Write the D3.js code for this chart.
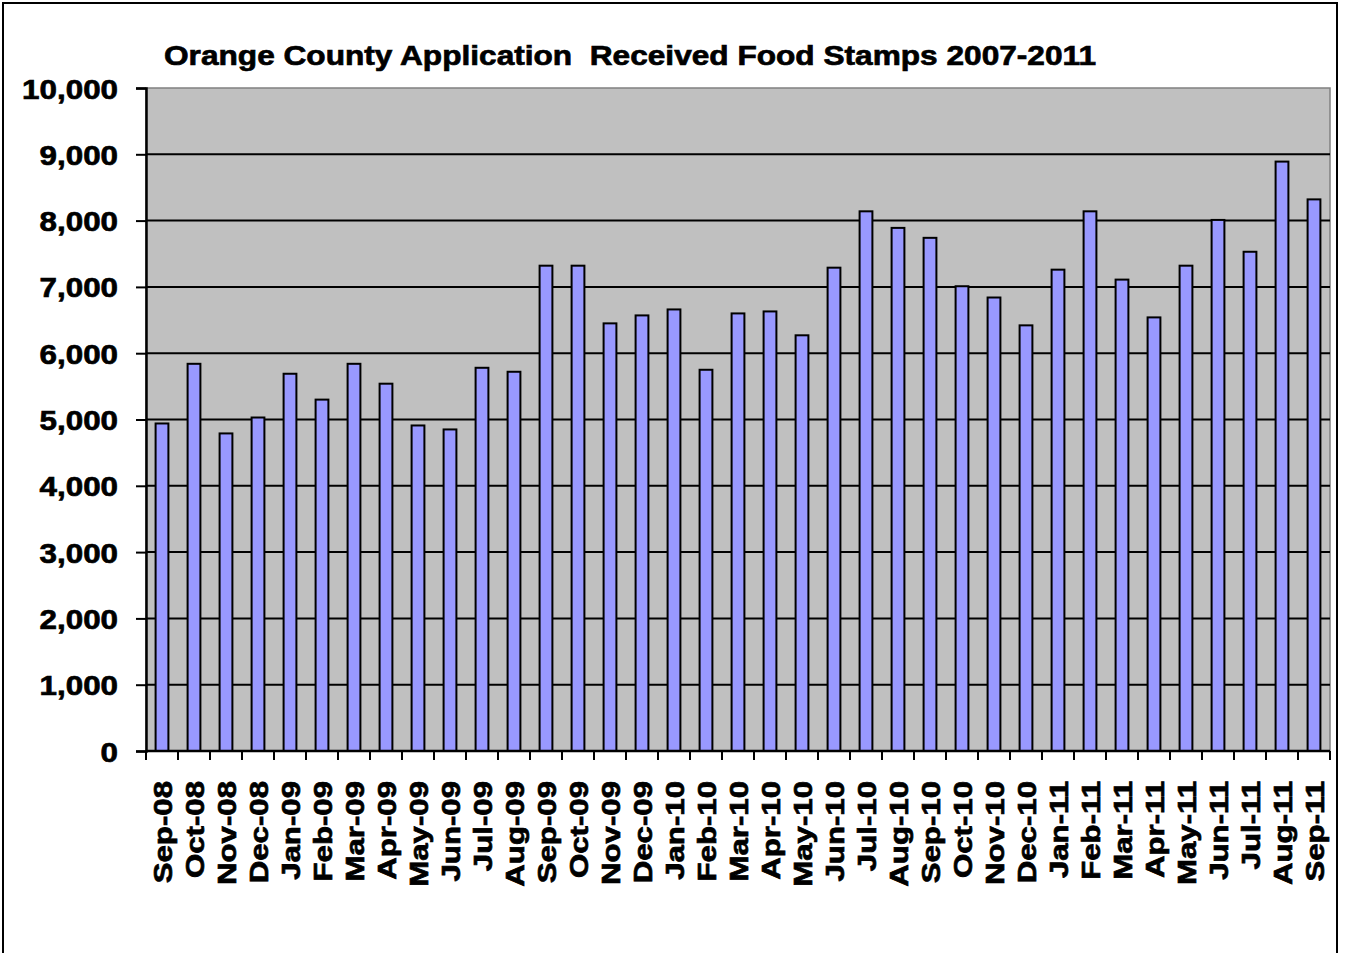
<!DOCTYPE html>
<html>
<head>
<meta charset="utf-8">
<script src="https://cdn.jsdelivr.net/npm/d3@7"></script>
<style>
  body { margin: 0; background: #fff; }
  text { font-family: "Liberation Sans", Arial, sans-serif; font-weight: bold; fill: #000;
         stroke: #000; stroke-width: 0.7px; }
</style>
</head>
<body>
<div id="chart-area"></div>
<script>
// data
var months = ["Sep-08", "Oct-08", "Nov-08", "Dec-08", "Jan-09", "Feb-09", "Mar-09", "Apr-09",
  "May-09", "Jun-09", "Jul-09", "Aug-09", "Sep-09", "Oct-09", "Nov-09", "Dec-09", "Jan-10",
  "Feb-10", "Mar-10", "Apr-10", "May-10", "Jun-10", "Jul-10", "Aug-10", "Sep-10", "Oct-10",
  "Nov-10", "Dec-10", "Jan-11", "Feb-11", "Mar-11", "Apr-11", "May-11", "Jun-11", "Jul-11",
  "Aug-11", "Sep-11"];
var applications = [4940, 5840, 4790, 5030, 5690, 5300, 5840, 5540,
  4910, 4850, 5780, 5720, 7320, 7320, 6450, 6570, 6660,
  5750, 6600, 6630, 6270, 7290, 8140, 7890, 7740, 7010,
  6840, 6420, 7260, 8140, 7110, 6540, 7320, 8010, 7530,
  8890, 8320];
var yTicks = [0, 1000, 2000, 3000, 4000, 5000, 6000, 7000, 8000, 9000, 10000];
var title = "Orange County Application  Received Food Stamps 2007-2011";

var margin = { left: 146, right: 15, top: 88, bottom: 202 },
  width = 1345 - margin.left - margin.right,
  height = 953 - margin.top - margin.bottom;

var svg = d3.select("#chart-area")
  .append("svg")
  .attr("width", 1345)
  .attr("height", 953);

// outer frame
svg.append("rect")
  .attr("x", 3).attr("y", 3)
  .attr("width", 1334).attr("height", 960)
  .attr("fill", "#fff")
  .attr("stroke", "#000")
  .attr("stroke-width", 2);

svg.append("text")
  .attr("x", 630)
  .attr("y", 65)
  .attr("text-anchor", "middle")
  .attr("font-size", "28px")
  .attr("transform", "translate(630,0) scale(1.13,1) translate(-630,0)")
  .style("white-space", "pre")
  .text(title);

var g = svg.append("g")
  .attr("transform", "translate(" + margin.left + "," + margin.top + ")");

var x = d3.scaleBand()
  .domain(months)
  .range([0, width])
  .paddingInner(0.6)
  .paddingOuter(0.3);

var y = d3.scaleLinear()
  .domain([0, 10000])
  .range([height, 0]);

// plot area
g.append("rect")
  .attr("width", width)
  .attr("height", height)
  .attr("fill", "#c0c0c0")
  .attr("stroke", "#808080")
  .attr("stroke-width", 1.5);

// gridlines
g.selectAll(".grid")
  .data(yTicks.filter(function(d) { return d > 0 && d < 10000; }))
  .enter().append("line")
  .attr("class", "grid")
  .attr("x1", 0).attr("x2", width)
  .attr("y1", function(d) { return y(d); })
  .attr("y2", function(d) { return y(d); })
  .attr("stroke", "#000")
  .attr("stroke-width", 2);

// bars
g.selectAll(".bar")
  .data(applications)
  .enter().append("rect")
  .attr("class", "bar")
  .attr("x", function(d, i) { return x(months[i]); })
  .attr("y", function(d) { return y(d); })
  .attr("width", x.bandwidth())
  .attr("height", function(d) { return height - y(d); })
  .attr("fill", "#9999ff")
  .attr("stroke", "#000")
  .attr("stroke-width", 2);

// Y-axis
var yAxisCall = d3.axisLeft(y)
  .tickValues(yTicks)
  .tickSize(10)
  .tickPadding(18)
  .tickFormat(d3.format(","));
var yAxis = g.append("g").attr("class", "y axis").call(yAxisCall);
yAxis.select(".domain").attr("stroke", "#000").attr("stroke-width", 2.5);
yAxis.selectAll(".tick line").attr("stroke", "#000").attr("stroke-width", 2);
yAxis.selectAll(".tick text")
  .attr("font-size", "28px")
  .attr("font-family", "Liberation Sans, Arial, sans-serif")
  .attr("font-weight", "bold")
  .attr("dy", "0.36em")
  .attr("x", -28 / 1.12)
  .attr("transform", "scale(1.12,1)");

// X-axis
var xAxis = g.append("g")
  .attr("class", "x axis")
  .attr("transform", "translate(0," + height + ")");
xAxis.append("line")
  .attr("x1", 0).attr("x2", width)
  .attr("stroke", "#000").attr("stroke-width", 2.5);
xAxis.selectAll(".xtick")
  .data(d3.range(months.length + 1))
  .enter().append("line")
  .attr("class", "xtick")
  .attr("x1", function(i) { return x.step() * i; })
  .attr("x2", function(i) { return x.step() * i; })
  .attr("y1", 0).attr("y2", 9)
  .attr("stroke", "#000").attr("stroke-width", 2);
xAxis.selectAll(".xlabel")
  .data(months)
  .enter().append("text")
  .attr("class", "xlabel")
  .attr("font-size", "26px")
  .attr("text-anchor", "end")
  .attr("transform", function(d) {
    return "translate(" + (x(d) + x.bandwidth() / 2 + 10) + ",30) rotate(-90) scale(1.2,1)";
  })
  .text(function(d) { return d; });
</script>
</body>
</html>
